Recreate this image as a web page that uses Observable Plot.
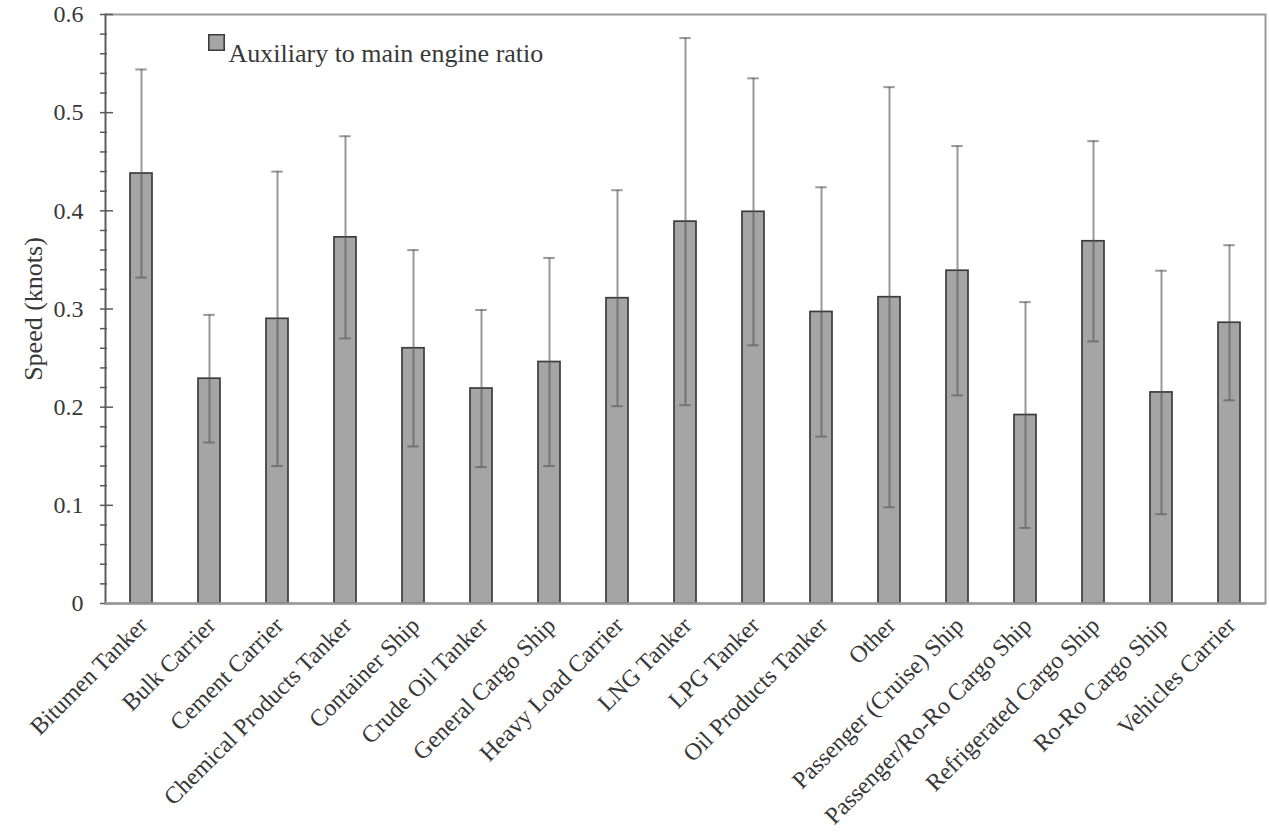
<!DOCTYPE html>
<html>
<head>
<meta charset="utf-8">
<script src="https://cdn.jsdelivr.net/npm/d3@7"></script>
<script src="https://cdn.jsdelivr.net/npm/@observablehq/plot@0.6"></script>
<style>
  html, body { margin: 0; padding: 0; background: #fff; }
  #chart svg { display: block; font-family: "Liberation Serif", "Times New Roman", serif !important; }
  #chart svg text { font-family: "Liberation Serif", "Times New Roman", serif !important; }
</style>
</head>
<body>
<div id="chart"></div>
<script>
// Ship types on the x axis
const shipTypes = [
  "Bitumen Tanker", "Bulk Carrier", "Cement Carrier", "Chemical Products Tanker",
  "Container Ship", "Crude Oil Tanker", "General Cargo Ship", "Heavy Load Carrier",
  "LNG Tanker", "LPG Tanker", "Oil Products Tanker", "Other",
  "Passenger (Cruise) Ship", "Passenger/Ro-Ro Cargo Ship", "Refrigerated Cargo Ship",
  "Ro-Ro Cargo Ship", "Vehicles Carrier"
];
// Mean auxiliary to main engine ratio per ship type
const ratioMean = [
  0.438, 0.229, 0.290, 0.373, 0.260, 0.219, 0.246, 0.311,
  0.389, 0.399, 0.297, 0.312, 0.339, 0.192, 0.369, 0.215, 0.286
];
// Half-length of each error bar
const ratioError = [
  0.106, 0.065, 0.150, 0.103, 0.100, 0.080, 0.106, 0.110,
  0.187, 0.136, 0.127, 0.214, 0.127, 0.115, 0.102, 0.124, 0.079
];
const majorTicks = [0, 0.1, 0.2, 0.3, 0.4, 0.5, 0.6];
const minorTicks = d3.range(0, 31).map(i => i / 50).filter(v => Math.round(v * 50) % 5 !== 0);
const seriesName = "Auxiliary to main engine ratio";
const yTitle = "Speed (knots)";

const rows = shipTypes.map((type, i) => ({
  type,
  value: ratioMean[i],
  low: ratioMean[i] - ratioError[i],
  high: ratioMean[i] + ratioError[i]
}));

const font = "Liberation Serif, Times New Roman, serif";
const ink = "#383838";
const barFill = "#a5a5a5";

const chart = Plot.plot({
  width: 1269,
  height: 836,
  marginLeft: 105,
  marginRight: 4,
  marginTop: 14,
  marginBottom: 233,
  style: { fontFamily: font, color: ink, background: "#fff" },
  x: { domain: shipTypes, paddingInner: 0.67, paddingOuter: 0.335, label: null },
  y: { domain: [0, 0.6], label: null },
  marks: [
    Plot.frame({ stroke: "#9a9a9a", strokeWidth: 2 }),
    Plot.frame({ anchor: "left", stroke: "#5a5a5a", strokeWidth: 1.5 }),
    // y axis: minor ticks, major ticks crossing the axis line, then labels
    Plot.axisY({ ticks: minorTicks, tickSize: 7, dx: 2, tickFormat: () => "", label: null, stroke: "#5a5a5a", strokeWidth: 1.5 }),
    Plot.axisY({ ticks: majorTicks, tickSize: 13, dx: 8, tickFormat: () => "", label: null, stroke: "#5a5a5a", strokeWidth: 1.5 }),
    Plot.axisY({ ticks: majorTicks, tickSize: 0, tickPadding: 22, tickFormat: d => d === 0 ? "0" : d3.format(".1f")(d), fontSize: 24, fill: ink, label: null }),
    Plot.text([yTitle], { frameAnchor: "left", textAnchor: "middle", rotate: -90, dx: -72, fontSize: 26, fill: ink }),
    Plot.axisX({ tickSize: 0, tickRotate: -45, tickPadding: 18, dx: 2, fontSize: 24, fill: ink, label: null }),
    Plot.barY(rows, { x: "type", y: "value", fill: barFill, stroke: "#3c3c3c", strokeWidth: 1.7 }),
    Plot.ruleX(rows, { x: "type", y1: "low", y2: "high", stroke: "#555", strokeOpacity: 0.6, strokeWidth: 2 }),
    Plot.tickY(rows, { x: "type", y: "high", stroke: "#555", strokeOpacity: 0.6, strokeWidth: 2, insetLeft: 5.3, insetRight: 5.3 }),
    Plot.tickY(rows, { x: "type", y: "low", stroke: "#555", strokeOpacity: 0.6, strokeWidth: 2, insetLeft: 5.3, insetRight: 5.3 }),
    Plot.ruleY([0], { stroke: "#9a9a9a", strokeWidth: 2.5 }),
    // legend inside the plot area
    Plot.dot([seriesName], { frameAnchor: "top-left", dx: 111, dy: 28, symbol: "square", r: 8.7, fill: barFill, stroke: "#3c3c3c", strokeWidth: 1.6 }),
    Plot.text([seriesName], { frameAnchor: "top-left", dx: 123, dy: 29, textAnchor: "start", fontSize: 26, fill: ink })
  ]
});

document.getElementById("chart").appendChild(chart);
</script>
</body>
</html>
